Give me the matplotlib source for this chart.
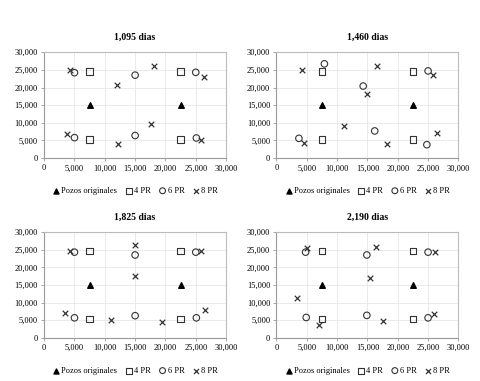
import matplotlib

matplotlib.use("Agg")

import matplotlib.pyplot as plt
from matplotlib.ticker import FuncFormatter

plt.rcParams["font.family"] = ["Liberation Serif", "DejaVu Serif"]

titles = ["1,095 dias", "1,460 dias", "1,825 dias", "2,190 dias"]

orig_x = [7500, 22500]
orig_y = [15000, 15000]
pr4_x = [7500, 22500, 7500, 22500]
pr4_y = [24600, 24600, 5300, 5300]

pr6_x = [
    [5000, 15000, 25000, 5000, 15000, 25100],
    [7900, 14300, 25000, 3700, 16200, 24800],
    [5000, 15000, 25000, 5000, 15000, 25100],
    [4800, 14900, 25000, 4900, 14900, 25000],
]
pr6_y = [
    [24200, 23500, 24300, 5800, 6400, 5700],
    [26700, 20400, 24700, 5600, 7700, 3800],
    [24300, 23500, 24300, 5700, 6300, 5700],
    [24300, 23500, 24300, 5800, 6400, 5700],
]
pr8_x = [
    [4200, 12000, 18100, 26300, 3700, 12200, 17600, 25800],
    [4200, 16600, 14900, 25800, 11200, 4600, 18300, 26500],
    [4200, 15000, 15000, 25800, 3500, 11000, 19500, 26600],
    [5000, 16400, 15400, 26100, 3400, 7000, 17600, 25900],
]
pr8_y = [
    [24900, 20600, 26000, 23000, 6700, 3900, 9800, 5000],
    [24900, 26200, 18200, 23400, 9100, 4200, 3900, 7200],
    [24700, 26200, 17600, 24700, 7200, 5200, 4600, 7800],
    [25400, 25900, 16900, 24300, 11200, 3800, 4900, 6900],
]

fig = plt.figure(figsize=(4.8, 3.81), dpi=100)
positions = [
    (0.092, 0.585, 0.379, 0.278),
    (0.576, 0.585, 0.379, 0.278),
    (0.092, 0.113, 0.379, 0.278),
    (0.576, 0.113, 0.379, 0.278),
]
fmt = FuncFormatter(lambda v, p: "{:,.0f}".format(v))

for i, pos in enumerate(positions):
    ax = fig.add_axes(pos)
    ax.scatter(orig_x, orig_y, marker="^", s=16, color="black", label="Pozos originales", zorder=3)
    ax.scatter(pr4_x, pr4_y, marker="s", s=22, facecolors="none", edgecolors="#333333",
               linewidths=0.8, label="4 PR", zorder=3)
    ax.scatter(pr6_x[i], pr6_y[i], marker="o", s=22, facecolors="none", edgecolors="#333333",
               linewidths=0.8, label="6 PR", zorder=3)
    ax.scatter(pr8_x[i], pr8_y[i], marker="x", s=16, color="#333333", linewidths=0.9,
               label="8 PR", zorder=3)
    ax.set_xlim(0, 30000)
    ax.set_ylim(0, 30000)
    ax.set_xticks(range(0, 30001, 5000))
    ax.set_yticks(range(0, 30001, 5000))
    ax.xaxis.set_major_formatter(fmt)
    ax.yaxis.set_major_formatter(fmt)
    ax.tick_params(labelsize=6, length=2.5, width=0.6, color="#999999", pad=2)
    ax.grid(True, color="#e6e6e6", linewidth=0.6)
    ax.set_axisbelow(True)
    for sp in ax.spines.values():
        sp.set_color("#bbbbbb")
        sp.set_linewidth(0.8)
    ax.spines["bottom"].set_color("#999999")
    ax.spines["left"].set_color("#999999")
    ax.set_title(titles[i], fontsize=7, fontweight="bold", pad=9)
    ax.legend(loc="center", bbox_to_anchor=(0.5, -0.31), ncol=4, frameon=False, fontsize=6,
              handletextpad=0.1, columnspacing=0.9, handlelength=1.0, markerscale=0.9)

fig.savefig("out.png", dpi=100)
